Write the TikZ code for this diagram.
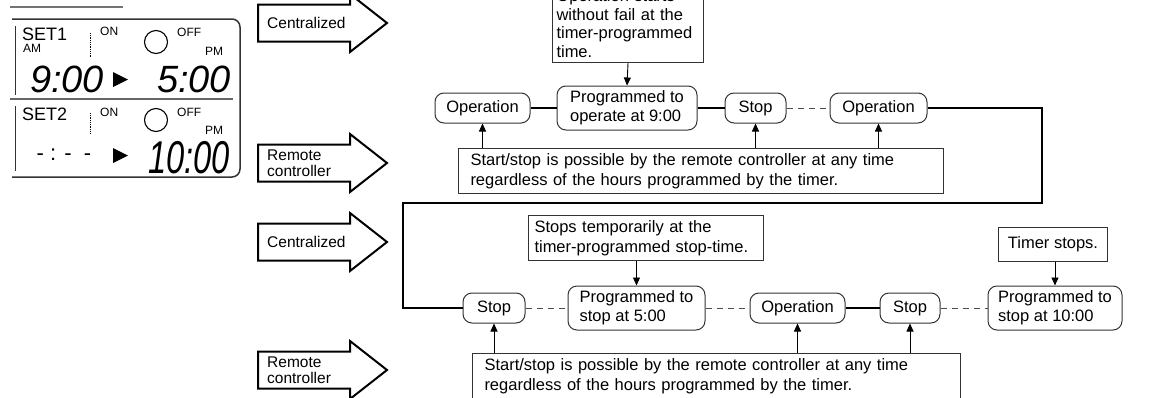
\documentclass[tikz,border=0pt]{standalone}
\usepackage{fontspec}
\setmainfont{Liberation Sans}
\usepackage{tikz}
\usetikzlibrary{positioning, arrows.meta, calc}

\begin{document}
\begin{tikzpicture}[x=1pt, y=-1pt,
		every node/.style={font=\fontsize{16.5}{19}\selectfont},
		stbox/.style={draw=black!80, line width=1pt, rounded corners=9pt, minimum height=30pt, inner sep=3pt},
		progbox/.style={stbox, minimum height=44pt, align=left},
		notebox/.style={draw=black!80, line width=1pt, align=left, inner xsep=12pt, inner ysep=5pt},
		thickline/.style={line width=2.6pt},
		dashline/.style={black!70, line width=0.8pt, dash pattern=on 6pt off 5pt},
		tipline/.style={line width=0.9pt, -{Triangle[length=8pt, width=7pt]}},
		blockarrow/.style={draw, line width=2pt, line join=miter},
		arrowlabel/.style={anchor=west, align=left, inner sep=0pt, font=\fontsize{15.5}{16}\selectfont},
		lcd/.style={anchor=west, inner sep=0pt},
		digits/.style={inner sep=0pt, font=\fontsize{38}{38}\selectfont\itshape}]
	\useasboundingbox (0,0) rectangle (1152,397);
	\clip (0,0) rectangle (1152,397);

	% timer display
	\draw[line width=1.8pt, black!55] (10,7) -- (123,7);
	\draw[line width=1.5pt, black!80, rounded corners=8pt] (12,19) -- (240,19) -- (240,177) -- (12,177);
	\draw[line width=1pt, black!80] (15,26) -- (15,95) (15,106) -- (15,171);
	\draw[line width=1.5pt, black!60] (10,99) -- (233,99);
	\draw[densely dotted, line width=0.8pt] (90,33) -- (90,57) (90,113) -- (90,133);
	\node[lcd, font=\fontsize{18}{18}\selectfont] (set1) at (22,34) {SET1};
	\node[lcd, font=\fontsize{12}{12}\selectfont] (am1) at (23,48) {AM};
	\node[lcd, font=\fontsize{12}{12}\selectfont] (on1) at (100,31) {ON};
	\node[draw, circle, line width=1.1pt, minimum size=23pt, inner sep=0pt] (lamp1) at (156,42) {};
	\node[lcd, font=\fontsize{12}{12}\selectfont] (off1) at (177,32) {OFF};
	\node[lcd, font=\fontsize{12}{12}\selectfont] (pm1) at (205,51) {PM};
	\node[digits] (start1) at (67,79) {9:00};
	\fill (113,72) -- (128,79.5) -- (113,87) -- cycle;
	\node[digits] (end1) at (194,79) {5:00};
	\node[lcd, font=\fontsize{18}{18}\selectfont] (set2) at (22,114) {SET2};
	\node[lcd, font=\fontsize{12}{12}\selectfont] (on2) at (100,112) {ON};
	\node[draw, circle, line width=1.1pt, minimum size=23pt, inner sep=0pt] (lamp2) at (156,120) {};
	\node[lcd, font=\fontsize{12}{12}\selectfont] (off2) at (177,112) {OFF};
	\node[lcd, font=\fontsize{12}{12}\selectfont] (pm2) at (205,130) {PM};
	\node[inner sep=0pt, font=\fontsize{22}{22}\selectfont] (start2) at (64,155) {- : -\ \ -};
	\fill (113,148) -- (128,155.5) -- (113,163) -- cycle;
	\node[digits, font=\fontsize{46}{46}\selectfont\itshape] (end2) at (189,158) {\scalebox{0.71}[1]{10:00}};

	% block arrows
	\foreach \ay/\alab/\aname in {23/Centralized/cen1, 163/{Remote\\controller}/rem1,
			242/Centralized/cen2, 370/{Remote\\controller}/rem2} {
		\draw[blockarrow] (258,\ay-18.5) -- (350,\ay-18.5) -- (350,\ay-29) -- (387,\ay)
			-- (350,\ay+29) -- (350,\ay+18.5) -- (258,\ay+18.5) -- cycle;
		\node[arrowlabel] (\aname) at (267,\ay) {\alab};
	}

	% first row
	\node[notebox, anchor=south west, inner xsep=4pt, text width=143pt, font=\fontsize{16.5}{18.5}\selectfont] (topnote) at (552,63)
		{Operation starts\\without fail at the\\timer-programmed\\time.};
	\node[stbox, minimum width=95pt] (op1) at (482.5,108) {Operation};
	\node[progbox, minimum width=140pt] (prog1) at (627,108) {Programmed to\\operate at 9:00};
	\node[stbox, minimum width=61pt] (stop1) at (755.5,108) {Stop};
	\node[stbox, minimum width=97pt] (op2) at (878.5,108) {Operation};
	\node[notebox, anchor=north west, text width=461pt, minimum height=44pt, font=\fontsize{16.5}{20}\selectfont] (remote1) at (458,148)
		{Start/stop is possible by the remote controller at any time\\regardless of the hours programmed by the timer.};

	% second row
	\node[notebox, anchor=north west, inner xsep=6pt, text width=223pt, minimum height=45pt, font=\fontsize{16.5}{20}\selectfont] (stopsnote) at (528,215)
		{Stops temporarily at the\\timer-programmed stop-time.};
	\node[notebox, anchor=north west, align=center, inner xsep=4pt, minimum width=109pt, minimum height=34pt] (timernote) at (998,227) {Timer stops.};
	\node[stbox, minimum width=62pt] (stop2) at (494,308) {Stop};
	\node[progbox, minimum width=137pt] (prog2) at (636.5,308) {Programmed to\\stop at 5:00};
	\node[stbox, minimum width=95pt] (op3) at (797.5,308) {Operation};
	\node[stbox, minimum width=60pt] (stop3) at (910,308) {Stop};
	\node[progbox, minimum width=134pt] (prog3) at (1055,308) {Programmed to\\stop at 10:00};
	\node[notebox, anchor=north west, text width=464pt, minimum height=46pt, font=\fontsize{16.5}{20}\selectfont] (remote2) at (472,353)
		{Start/stop is possible by the remote controller at any time\\regardless of the hours programmed by the timer.};

	% connectors
	\coordinate (turnA) at (1042,203);
	\coordinate (turnB) at (403,203);
	\draw[thickline] (op1) -- (prog1);
	\draw[thickline] (prog1) -- (stop1);
	\draw[dashline] (stop1) -- (op2);
	\draw[thickline] (op2.east) -| (turnA) -- (turnB) |- (stop2.west);
	\draw[dashline] (stop2) -- (prog2);
	\draw[dashline] (prog2) -- (op3);
	\draw[thickline] (op3) -- (stop3);
	\draw[dashline] (stop3) -- (prog3);

	\draw[tipline] (topnote.south) -- (prog1.north);
	\draw[tipline] (stopsnote.south -| prog2.north) -- (prog2.north);
	\draw[tipline] (timernote.south -| prog3.north) -- (prog3.north);
	\foreach \tgt in {op1, stop1, op2}
		\draw[tipline] (remote1.north -| \tgt.south) -- (\tgt.south);
	\foreach \tgt in {stop2, op3, stop3}
		\draw[tipline] (remote2.north -| \tgt.south) -- (\tgt.south);
\end{tikzpicture}
\end{document}
